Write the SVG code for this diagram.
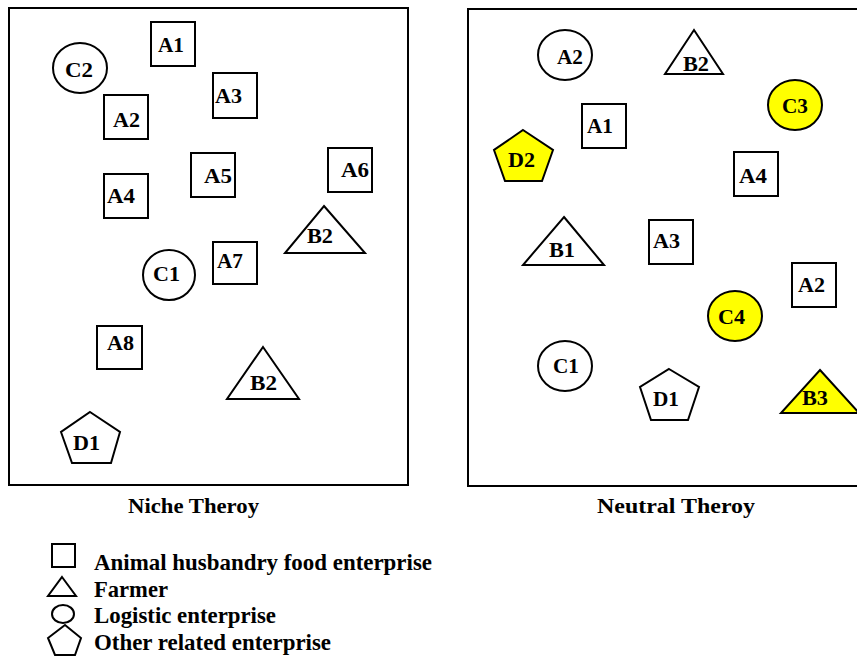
<svg xmlns="http://www.w3.org/2000/svg" width="857" height="660" viewBox="0 0 857 660">
<style>
.frame{fill:#fff;stroke:#000;stroke-width:2}
.s{fill:#fff;stroke:#000;stroke-width:2}
.y{fill:#ffff00;stroke:#000;stroke-width:2}
text{font-family:"Liberation Serif","Times New Roman",serif;font-weight:bold;fill:#000}
.n{font-size:21px}
.cap{font-size:22px}
.lg{font-size:23px}
</style>
<rect width="857" height="660" fill="#fff"/>
<g id="frame-niche"><rect class="frame" x="9" y="8" width="399" height="477"/></g>
<g id="frame-neutral"><rect class="frame" x="468" y="9" width="400" height="477"/></g>

<g id="L-A1"><rect class="s" x="151" y="22" width="44" height="44"/><text class="n" x="158" y="52" textLength="26" lengthAdjust="spacingAndGlyphs">A1</text></g>
<g id="L-C2"><ellipse class="s" cx="80" cy="68" rx="27" ry="25"/><text class="n" x="65" y="77" textLength="28" lengthAdjust="spacingAndGlyphs">C2</text></g>
<g id="L-A3"><rect class="s" x="213" y="73" width="44" height="45"/><text class="n" x="215" y="103" textLength="27" lengthAdjust="spacingAndGlyphs">A3</text></g>
<g id="L-A2"><rect class="s" x="104" y="95" width="44" height="44"/><text class="n" x="113" y="127" textLength="27" lengthAdjust="spacingAndGlyphs">A2</text></g>
<g id="L-A5"><rect class="s" x="191" y="153" width="44" height="44"/><text class="n" x="204" y="183" textLength="28" lengthAdjust="spacingAndGlyphs">A5</text></g>
<g id="L-A6"><rect class="s" x="328" y="148" width="44" height="44"/><text class="n" x="341" y="177" textLength="28" lengthAdjust="spacingAndGlyphs">A6</text></g>
<g id="L-A4"><rect class="s" x="104" y="174" width="44" height="44"/><text class="n" x="107" y="203" textLength="28" lengthAdjust="spacingAndGlyphs">A4</text></g>
<g id="L-B2a"><polygon class="s" points="324,206 365,253 285,253"/><text class="n" x="307" y="243" textLength="26" lengthAdjust="spacingAndGlyphs">B2</text></g>
<g id="L-A7"><rect class="s" x="213" y="242" width="44" height="42"/><text class="n" x="217" y="268" textLength="26" lengthAdjust="spacingAndGlyphs">A7</text></g>
<g id="L-C1"><ellipse class="s" cx="169" cy="275" rx="26" ry="25"/><text class="n" x="153" y="281" textLength="27" lengthAdjust="spacingAndGlyphs">C1</text></g>
<g id="L-A8"><rect class="s" x="97" y="326" width="45" height="43"/><text class="n" x="107" y="350" textLength="27" lengthAdjust="spacingAndGlyphs">A8</text></g>
<g id="L-B2b"><polygon class="s" points="263,347 299,399 227,399"/><text class="n" x="250" y="390" textLength="27" lengthAdjust="spacingAndGlyphs">B2</text></g>
<g id="L-D1"><polygon class="s" points="90,412 120,432 111,463 72,463 61,432"/><text class="n" x="73" y="450" textLength="27" lengthAdjust="spacingAndGlyphs">D1</text></g>

<g id="R-A2c"><ellipse class="s" cx="565" cy="55" rx="27" ry="25"/><text class="n" x="557" y="64" textLength="26" lengthAdjust="spacingAndGlyphs">A2</text></g>
<g id="R-B2"><polygon class="s" points="694,30 723,74 665,74"/><text class="n" x="683" y="71" textLength="26" lengthAdjust="spacingAndGlyphs">B2</text></g>
<g id="R-C3"><ellipse class="y" cx="795" cy="105" rx="27" ry="25"/><text class="n" x="782" y="113" textLength="26" lengthAdjust="spacingAndGlyphs">C3</text></g>
<g id="R-A1"><rect class="s" x="582" y="104" width="44" height="44"/><text class="n" x="587" y="133" textLength="26" lengthAdjust="spacingAndGlyphs">A1</text></g>
<g id="R-D2"><polygon class="y" points="523,130 553,150 542,181 505,181 494,150"/><text class="n" x="508" y="167" textLength="27" lengthAdjust="spacingAndGlyphs">D2</text></g>
<g id="R-A4"><rect class="s" x="734" y="152" width="44" height="44"/><text class="n" x="739" y="183" textLength="28" lengthAdjust="spacingAndGlyphs">A4</text></g>
<g id="R-B1"><polygon class="s" points="564,217 604,265 523,265"/><text class="n" x="549" y="257" textLength="26" lengthAdjust="spacingAndGlyphs">B1</text></g>
<g id="R-A3"><rect class="s" x="649" y="220" width="44" height="44"/><text class="n" x="653" y="248" textLength="27" lengthAdjust="spacingAndGlyphs">A3</text></g>
<g id="R-A2s"><rect class="s" x="792" y="263" width="44" height="44"/><text class="n" x="798" y="292" textLength="27" lengthAdjust="spacingAndGlyphs">A2</text></g>
<g id="R-C4"><ellipse class="y" cx="735" cy="316" rx="27" ry="25"/><text class="n" x="718" y="324" textLength="27" lengthAdjust="spacingAndGlyphs">C4</text></g>
<g id="R-C1"><ellipse class="s" cx="565" cy="366" rx="27" ry="25"/><text class="n" x="553" y="373" textLength="26" lengthAdjust="spacingAndGlyphs">C1</text></g>
<g id="R-D1"><polygon class="s" points="669,369 699,387 688,420 651,420 640,387"/><text class="n" x="653" y="406" textLength="26" lengthAdjust="spacingAndGlyphs">D1</text></g>
<g id="R-B3"><polygon class="y" points="820,370 859,413 781,413"/><text class="n" x="802" y="405" textLength="26" lengthAdjust="spacingAndGlyphs">B3</text></g>

<g id="captions">
<text class="cap" x="128" y="513" textLength="131" lengthAdjust="spacingAndGlyphs">Niche Theroy</text>
<text class="cap" x="597" y="513" textLength="158" lengthAdjust="spacingAndGlyphs">Neutral Theroy</text>
</g>

<g id="legend">
<rect class="s" x="52" y="544" width="23" height="23"/>
<polygon class="s" points="62,577 76,596 48,596"/>
<ellipse class="s" cx="63" cy="614" rx="11" ry="9"/>
<polygon class="s" points="65,625 81,638 75,655 55,655 48,638"/>
<text class="lg" x="94" y="570" textLength="338" lengthAdjust="spacingAndGlyphs">Animal husbandry food enterprise</text>
<text class="lg" x="94" y="597" textLength="74" lengthAdjust="spacingAndGlyphs">Farmer</text>
<text class="lg" x="94" y="623" textLength="182" lengthAdjust="spacingAndGlyphs">Logistic enterprise</text>
<text class="lg" x="94" y="650" textLength="237" lengthAdjust="spacingAndGlyphs">Other related enterprise</text>
</g>
</svg>
